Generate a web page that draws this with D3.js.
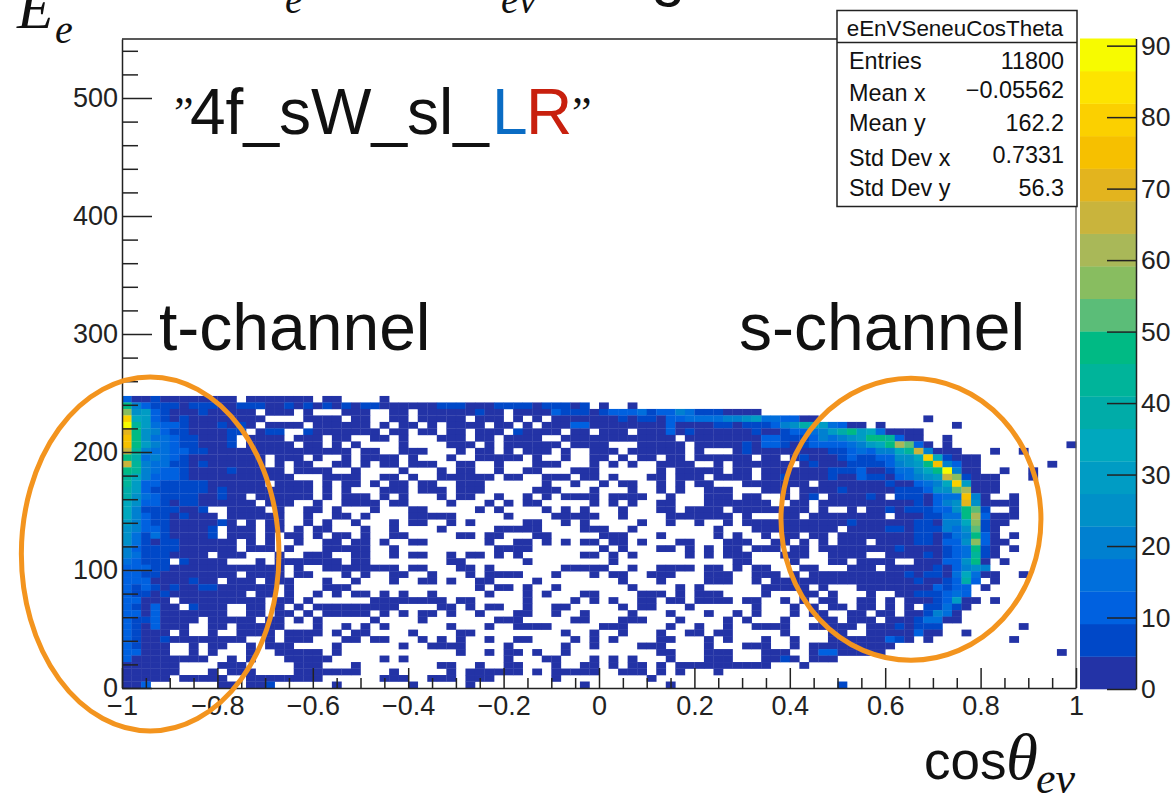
<!DOCTYPE html>
<html>
<head>
<meta charset="utf-8">
<script src="https://cdn.jsdelivr.net/npm/d3@7"></script>
<style>
html,body{margin:0;padding:0;background:#fff;overflow:hidden}
svg{display:block}
text{font-family:"Liberation Sans",Arial,sans-serif;fill:#111}
.serif{font-family:"Liberation Serif",serif;font-style:italic}
</style>
</head>
<body>
<svg id="c" width="1173" height="795"></svg>
<script>
// Histogram contents, row by row from the top row (row 44) down to row 0.
// Each character = colour band of the cell ("." = empty cell, 1..9,a..k = band 1..20).
// The four blocks of a row cover columns 0-25, 26-52, 53-76, 77-99.
const histRows = [
"311211111111.1111111.11... .1 . .",
"b5322212221122211212121212 21111112221112222122212.1.. 1 .",
"d6732111211111.111.1...111 ..11.111111211.111132221233 34233542221111 .",
"i87321211111111....1111.11 ..11.11111.111.1.1.11111112 12213344445567443311.... .......1",
"ka743321112121.1111.111111 .1.11.1.1111.11.1.111331111 111131111221222356987431 1.1.......1",
"gb65322111122.122..2111111 1.11.11.11.111.21111.11.111 .1113121111112112334579b 7841111",
"hb6443221112.1111.111.11.. 11.1...111.11.1111..1111111 11111.111111113322235456 7bba311..1",
"hb7543221112.11111.11.1.1. ...1....111.1.111111.1111.. .11111.11111213321233334 578bec31.1............1",
"fa5443322111111111111111.1 1..111...1.11.1.111.1..111. 111111.1...1211111111223 43558af5111...1..1",
"b94543211111111.111.1..1.1 111.1...1..11111.1..1..11.1 .11.11.111111.11.1211123 2233668i82111",
"fa5442212111111.1.11..11.1 .11.111..11..1...111...1.1. 1..1111..1.111111.121112 2223567bh5311.......1",
"ba543321111211111.1111..1. ...1...1.11..1..11...111... ...1.11111.11.1111111222 31124468bk511..1..1",
"a85333211111111111...1111. .11.1..111111.11..111.11.1. ..11.111.1111.1121111211 322134567fd2111...1",
"a73322222111111.1111.1.11. 1.11.11..111......1..1..1.1 1..1.1.11...1111111.1111 1112113458i7111",
"97322222212111111111.1.1.. .111.111.111.....111...1... 1..1.1..111...111.111121 1111222366ce111",
"9643222211211.111111.1.111 .1.1...1.11..1..1.1.1111.11 11..1...111.11..1.12.111 121.2221344h51..1",
"86332122111111.111..1..111 1.11....1...1.1.11.....1.1. 1..11...1111111..11.1111 11111121356g61111",
"852222112..1111.1..11.1... 1...11.....1.1....1.1.1...1 ...11.1111.11111111.1..1 .1121222336bc2..1",
"8532212111.111111..1..11.1 ....11111.....1....11111..1 ....1111111.1...11.11111 111.1112244be3111",
"753221111121.1.11..1.1..1. ..1.11..1.1.....11..1.1.... .1..1..1..1.111111111112 111111221558d211",
"6533211112.111.11.1.11...1 ..1....1.....11111....111.. 1........1...111111111.1 111221222546c21",
"6424211112.111.1.11.1.11.1 ..11.....11.11...11.....111 ...1.....1.1..1.11.11.11 111111221245b31.1",
"642122111111.1.1..1..11.11 .1..11......1..11.1.1.11.11 .1...11...111..11.1.1.11 1.1111221336d311",
"532222111111.111.1...11111 ..1..........1111.......1.1 ...11.1.1.11.111.11.1111 111121111234b21.1",
"542221111.111...1..111..11 ..1.11..1.11.1.1......11.1. 1.....1.1.111...111..111 1..111121234a21",
"43222.21111...1.1111111.11 ........11......1........1. ...........11....1...11. 1111..111336b1.1",
"33322111111111111.1..11111 111.11...11.1.......11111.. 1..1111.11.1.11...11...1 11.11111213565",
"332211111111.1111.11...1.1 ..11..1...1.1111...1...1.11 ..111...111..111.1.11111 111112122148411..1",
"3331111211.111.111...1..1. ..1..11.1..11....1........1 ...1....111..1.111111111 1111112112393.1",
"3232121122111111.1...111.. ...........1.11.1..1....... 1....1.1......11111.1... 111111113233.1",
"3221211111111.11.1..1.1.11 .1.1..1.....1...1.1...11... .111.1.111....1...11.1.. .1..11222343",
"33111.111111111.11.1...... 11111111.11.....1....1.1.1. .11.11.1111.11..1.1.11.. 11.1.11123711.1",
"321311.2111..11.1.1.111111 111....11.1.11..1..11.....1 .11...1......1...1.1.11. 11.1.1.22421",
"33131111111..11.11.1.11111 .1.1.11.1..1...11..1..1.... 1...1...1..1.1...1.11..1 1.11.112541",
"32231111.11111.11.1.1..... 1....1.......111.....11...1 11...1....1.1...1...11.1 11.11124411",
"3213111..11.11111...1..1.1 .1......1...1..1111.....111 ....1..1..1..1111..11111 .11121222........1",
"32111.1..1..1111.1111.1.11 ....1....11.........1..1..1 ...1..11.11.....1....11. .11111311..1",
"3211211111111..1.111...11. 11...1.1.1..1..11....1.1.1. ...11...1.1...1..1...111 111321.1........1",
"32111..1.11..1.111....1... ...1..1111....1.....1..1... .111....1...111..1.11111 1111",
"33111..1.1...1..11111.1... .........1..1.11.1..1...... ...11...111...111..13311 111..................1",
"311111111..1.1...11111.... .1.1..........1...11...1.1. 1...1...111...1121.111.. .",
"111111....111.....111...1. .......11..1..11...1..11.1. 11.1.1111111111...1..... .",
"111111...1.111....1111111. ..1.....1.111111.1.11111..1 11.1.1...1.............. .",
"11111.11111..11111111..... .111..111.111......1....... ..1..................... .",
"113.......11.112......1... ....1.....1...........1.... ....1.................2. ."
];
const blockWidths = [26, 27, 24, 23];
const nBinsX = 100, nBinsY = 100;
const xDomain = [-1, 1];
const yDomain = [0, 550];
const zDomain = [0, 91];

const palette = ["#2333a6","#0048c8","#0061e0","#006fdc","#0080d0","#0090c8","#009cc4","#00a8be",
  "#00aca8","#00b49a","#00ba84","#5bbd78","#88bd60","#a9b858","#c9b43c","#e3b41e","#f6c000","#fbd000","#fde400","#f7fb00"];

const xMajor = [-1,-0.8,-0.6,-0.4,-0.2,0,0.2,0.4,0.6,0.8,1];
const xMajorLabels = ["\u22121","\u22120.8","\u22120.6","\u22120.4","\u22120.2","0","0.2","0.4","0.6","0.8","1"];
const xMinor = [-0.95,-0.9,-0.85,-0.75,-0.7,-0.65,-0.55,-0.5,-0.45,-0.35,-0.3,-0.25,-0.15,-0.1,-0.05,0.05,0.1,0.15,0.25,0.3,0.35,0.45,0.5,0.55,0.65,0.7,0.75,0.85,0.9,0.95];
const yMajor = [0,100,200,300,400,500];
const yMinor = [20,40,60,80,120,140,160,180,220,240,260,280,320,340,360,380,420,440,460,480,520,540];
const zTicks = [0,10,20,30,40,50,60,70,80,90];

const statsTitle = "eEnVSeneuCosTheta";
const statNames = ["Entries","Mean x","Mean y","Std Dev x","Std Dev y"];
const statValues = ["11800","\u22120.05562","162.2","0.7331","56.3"];

// annotation ellipses in data units: centre cos, centre E, half width, half height
const ellipses = [[-0.941,113.6,0.27,150],[0.654,143,0.2725,119.5]];

const svg = d3.select("#c");
const x = d3.scaleLinear().domain(xDomain).range([122,1076]);
const y = d3.scaleLinear().domain(yDomain).range([688,39]);
const zY = d3.scaleLinear().domain(zDomain).range([689,38.5]);
const color = d3.scaleQuantize().domain(zDomain).range(palette);
const bandW = (zDomain[1]-zDomain[0])/palette.length;

// parse the cells
const binXW = (xDomain[1]-xDomain[0])/nBinsX, binYH = (yDomain[1]-yDomain[0])/nBinsY;
const cells = [];
histRows.forEach((line,i)=>{
  const row = histRows.length-1-i;
  const parts = line.split(" ");
  const full = blockWidths.map((w,k)=>(parts[k]||"").padEnd(w,".").slice(0,w)).join("");
  for(let c=0;c<full.length;c++){
    if(full[c]==="." ) continue;
    const lvl = parseInt(full[c],36);
    cells.push({c,row,value:(lvl-0.5)*bandW});
  }
});

svg.append("g").selectAll("rect").data(cells).join("rect")
  .attr("x",d=>x(xDomain[0]+d.c*binXW))
  .attr("y",d=>y(yDomain[0]+(d.row+1)*binYH))
  .attr("width",d=>x(xDomain[0]+(d.c+1)*binXW)-x(xDomain[0]+d.c*binXW)+0.3)
  .attr("height",d=>y(yDomain[0]+d.row*binYH)-y(yDomain[0]+(d.row+1)*binYH)+0.3)
  .attr("fill",d=>color(d.value));

// frame
const ink = "#222";
svg.append("line").attr("x1",x(-1)).attr("x2",x(1)).attr("y1",y(550)).attr("y2",y(550)).attr("stroke",ink).attr("stroke-width",1.5);
svg.append("line").attr("x1",x(1)).attr("x2",x(1)).attr("y1",y(550)).attr("y2",y(0)).attr("stroke","#555").attr("stroke-width",1.3);

// x axis
const tickFont = 27;
const xg = svg.append("g").attr("transform",`translate(0,${y(0)})`);
xg.call(d3.axisBottom(x).tickValues(xMajor).tickSizeInner(-20).tickSizeOuter(0).tickPadding(0)
  .tickFormat((d,i)=>xMajorLabels[i]));
xg.selectAll("text").attr("font-size",tickFont).attr("dy",null).attr("y",27).style("fill","#222");
svg.append("g").attr("transform",`translate(0,${y(0)})`)
  .call(d3.axisBottom(x).tickValues(xMinor).tickSizeInner(-10).tickSizeOuter(0).tickFormat(""))
  .select(".domain").remove();

// y axis
const yg = svg.append("g").attr("transform",`translate(${x(-1)},0)`);
yg.call(d3.axisLeft(y).tickValues(yMajor).tickSizeInner(-30).tickSizeOuter(0).tickPadding(4)
  .tickFormat(d3.format("d")));
yg.selectAll("text").attr("font-size",tickFont).attr("x",-4).style("fill","#222");
svg.append("g").attr("transform",`translate(${x(-1)},0)`)
  .call(d3.axisLeft(y).tickValues(yMinor).tickSizeInner(-16).tickSizeOuter(0).tickFormat(""))
  .select(".domain").remove();
svg.selectAll(".domain,.tick line").attr("stroke",ink).attr("stroke-width",1.5);

// colour bar
const bands = palette.map(p=>{const e=color.invertExtent(p);return {p,e};});
svg.append("g").selectAll("rect").data(bands).join("rect")
  .attr("x",1080).attr("width",56)
  .attr("y",d=>zY(d.e[1])).attr("height",d=>zY(d.e[0])-zY(d.e[1])+0.3)
  .attr("fill",d=>d.p);
const zg = svg.append("g").attr("transform","translate(1136,0)");
zg.call(d3.axisRight(zY).tickValues(zTicks).tickSizeInner(-29).tickSizeOuter(0).tickPadding(0).tickFormat(d3.format("d")));
zg.selectAll("text").attr("x",5).attr("font-size",26.5).style("fill","#222");
zg.selectAll(".domain,.tick line").attr("stroke",ink).attr("stroke-width",1.5);

// stats box
const box = svg.append("g");
box.append("rect").attr("x",837).attr("y",10.5).attr("width",240).attr("height",196)
  .attr("fill","#fff").attr("stroke",ink).attr("stroke-width",1.5);
box.append("line").attr("x1",837).attr("x2",1077).attr("y1",42.5).attr("y2",42.5).attr("stroke",ink).attr("stroke-width",1.5);
box.append("text").attr("x",955).attr("y",36).attr("text-anchor","middle").attr("font-size",22.4).text(statsTitle);
const statBase = {"Entries":69,"Mean x":101,"Mean y":131,"Std Dev x":166,"Std Dev y":196};
statNames.forEach((n,i)=>{
  box.append("text").attr("x",849).attr("y",statBase[n]).attr("font-size",23.4).text(n);
  box.append("text").attr("x",1064).attr("y",statBase[n]-(i===1||i===3?3:0)).attr("text-anchor","end").attr("font-size",23.4).text(statValues[i]);
});

// sample name
const title = svg.append("g");
title.append("text").attr("class","serif").attr("x",174).attr("y",127).attr("font-size",44).style("font-style","normal").text("\u201D");
title.append("text").attr("x",190).attr("y",134).attr("font-size",64).text("4f_sW_sl_");
title.append("text").attr("x",492).attr("y",134).attr("font-size",64).style("fill","#0a6cc4").text("L");
title.append("text").attr("x",526).attr("y",134).attr("font-size",64).style("fill","#c8200e").text("R");
title.append("text").attr("class","serif").attr("x",572).attr("y",127).attr("font-size",44).style("font-style","normal").text("\u201D");

svg.append("text").attr("x",159).attr("y",350).attr("font-size",66).text("t-channel");
svg.append("text").attr("x",739).attr("y",350).attr("font-size",66).text("s-channel");

// axis titles
svg.append("text").attr("class","serif").attr("x",17).attr("y",28).attr("font-size",60).text("E");
svg.append("text").attr("class","serif").attr("x",55).attr("y",43).attr("font-size",40).text("e");
svg.append("text").attr("x",924).attr("y",779).attr("font-size",53).text("cos");
svg.append("text").attr("class","serif").attr("x",1006).attr("y",779).attr("font-size",65).text("\u03B8");
svg.append("text").attr("class","serif").attr("x",1036).attr("y",793).attr("font-size",44).text("e\u03BD");

// slide heading, cut off by the top edge of the picture
svg.append("text").attr("class","serif").attr("x",285).attr("y",13).attr("font-size",40).text("e");
svg.append("text").attr("class","serif").attr("x",501).attr("y",13).attr("font-size",40).text("e\u03BD");
svg.append("text").attr("x",651).attr("y",-6).attr("font-size",62).text("g");

// annotation ellipses
svg.append("g").selectAll("ellipse").data(ellipses).join("ellipse")
  .attr("cx",d=>x(d[0])).attr("cy",d=>y(d[1]))
  .attr("rx",d=>x(d[2])-x(0)).attr("ry",d=>y(0)-y(d[3]))
  .attr("fill","none").attr("stroke","#f3941e").attr("stroke-width",5);
</script>
</body>
</html>
